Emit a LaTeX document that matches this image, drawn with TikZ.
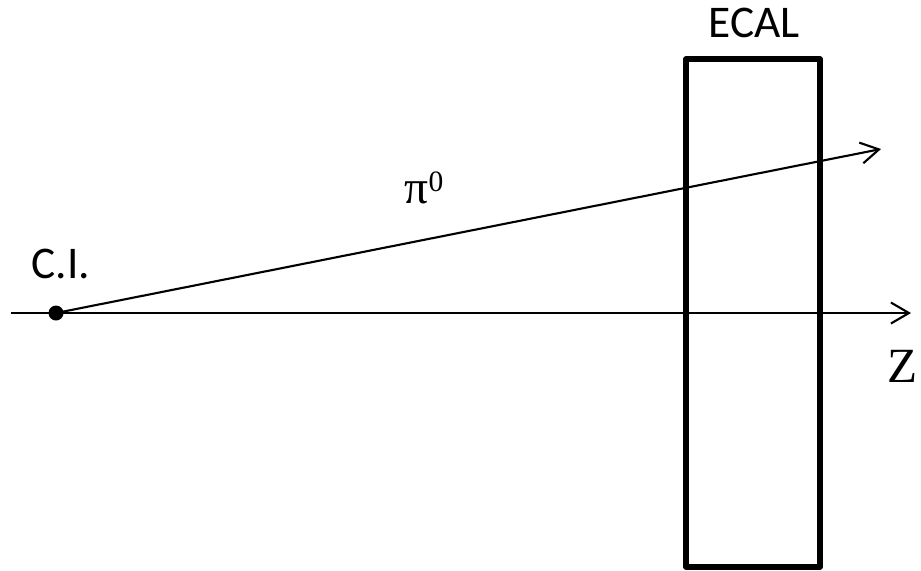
\documentclass[tikz,border=0pt]{standalone}
\usepackage{fontspec}
\setmainfont{Carlito}
\newfontfamily\tms{Liberation Serif}
\usetikzlibrary{arrows.meta,positioning,calc}

\begin{document}
\begin{tikzpicture}[x=0.1mm,y=-0.1mm,>={Straight Barb[length=1.8mm,width=2.1mm]},
  ray/.style={->,line width=0.6pt},
  dot/.style={circle,fill=black,inner sep=0pt,minimum size=1.5mm},
  lbl/.style={inner sep=0pt,font=\fontsize{12.9}{15}\selectfont}]
\useasboundingbox (0,0) rectangle (921,570);
\node[draw,line width=1.45pt,line join=round,minimum width=13.4mm,minimum height=50.8mm,inner sep=0pt] (ecal) at (753,313) {};
\node[lbl,anchor=base] (ecallbl) at (754,37) {ECAL};
\node[dot] (ci) at (56,313) {};\node[lbl,anchor=base] (cilbl) at (61,278) {C.I.};
\coordinate (zl) at (11,313);\coordinate (zr) at (911,313);\coordinate (pir) at (881,149);
\draw[ray] (zl)--(zr);\draw[ray] (ci.center)--(pir);
\node[inner sep=0pt,anchor=base west] (zlbl) at (887,382) {\tms\fontsize{14}{16}\selectfont Z};
\node[inner sep=0pt,anchor=base west] (pilbl) at (404,203) {\tms\fontsize{13.5}{15}\selectfont π\raisebox{3.2pt}{\fontsize{8.4}{10}\selectfont 0}};
\end{tikzpicture}
\end{document}
